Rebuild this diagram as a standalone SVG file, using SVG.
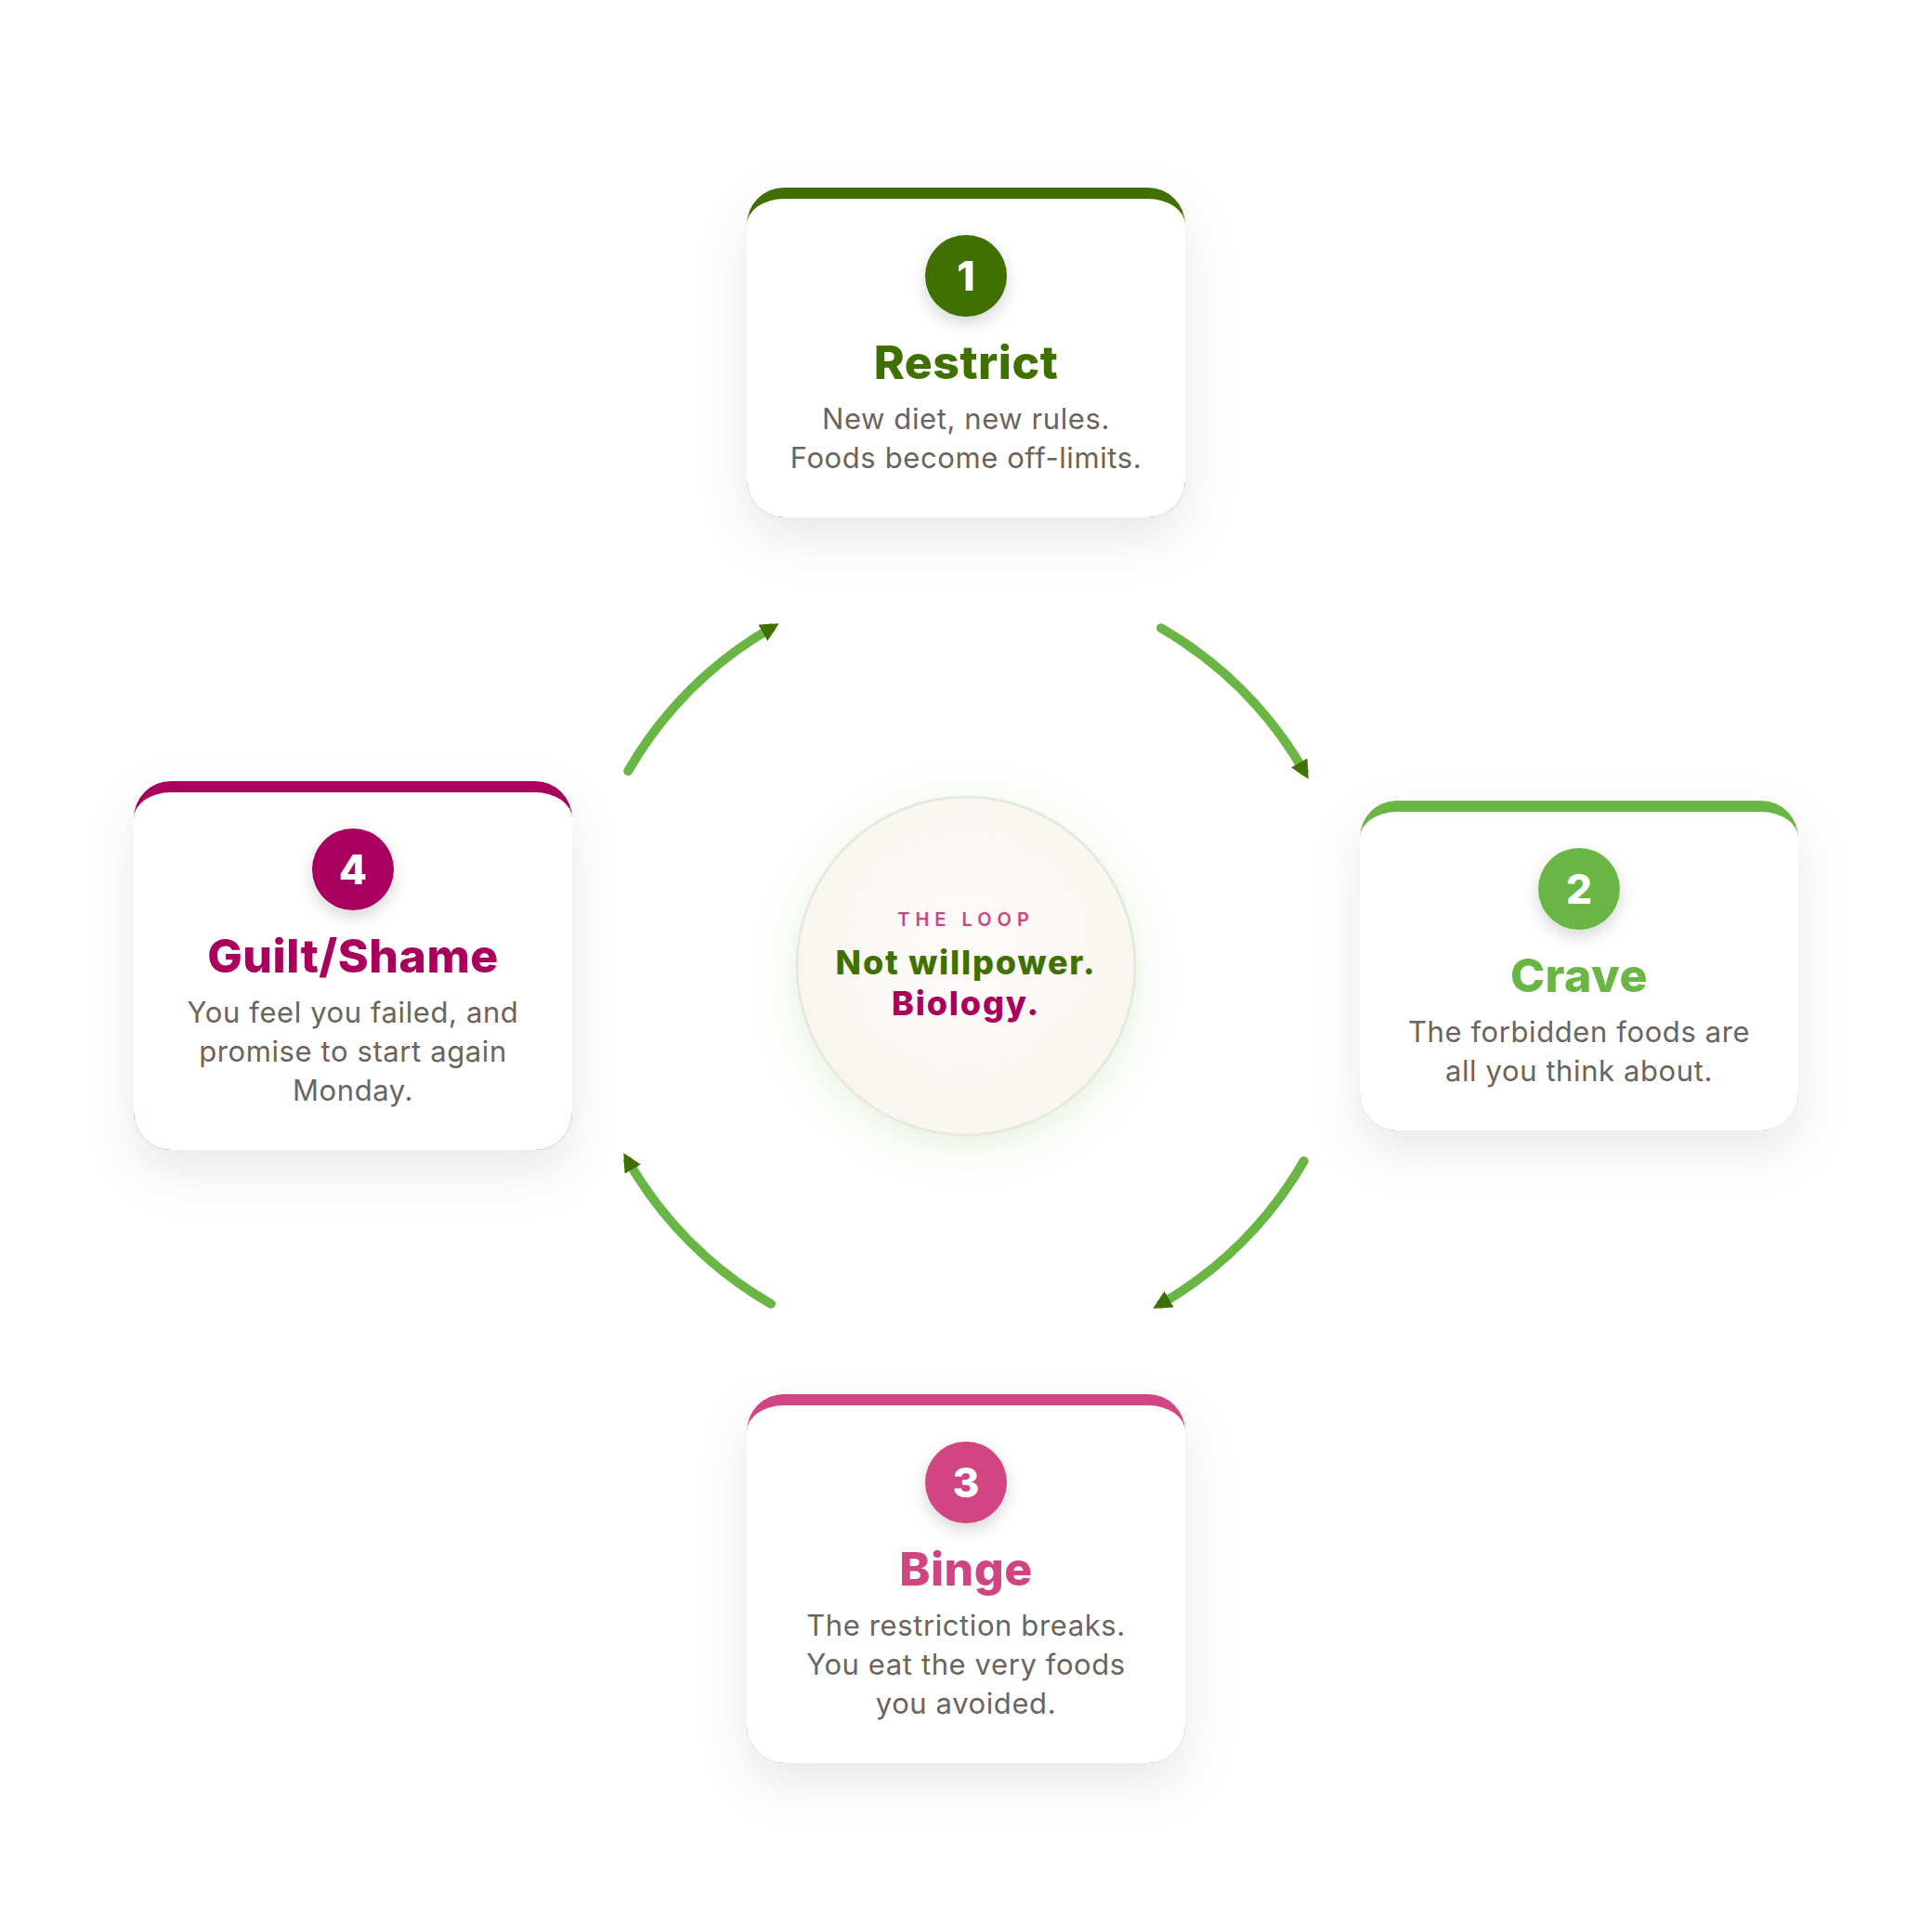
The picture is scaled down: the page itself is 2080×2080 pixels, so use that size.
<svg xmlns="http://www.w3.org/2000/svg" width="2080" height="2080" viewBox="0 0 2080 2080">
<defs>
<style>
text{font-family:Inter,"Open Sans","Liberation Sans",sans-serif;text-anchor:middle}
.title{font-weight:800;font-size:50px;letter-spacing:0.5px}
.body{font-weight:400;font-size:31px;letter-spacing:0.6px;fill:#6b645c}
.num{font-weight:800;font-size:44px;fill:#fff}
.hub{font-size:36px;font-weight:800;letter-spacing:1.8px}
.arc{fill:none;stroke:#6ab645;stroke-width:10;stroke-linecap:round;marker-end:url(#ah)}
</style>
<filter id="cardShadow" x="-30%" y="-30%" width="160%" height="170%">
<feDropShadow dx="0" dy="22" stdDeviation="26" flood-color="#000" flood-opacity="0.09"/>
</filter>
<filter id="numShadow" x="-50%" y="-50%" width="200%" height="220%">
<feDropShadow dx="0" dy="7" stdDeviation="9" flood-color="#000" flood-opacity="0.16"/>
</filter>
<filter id="hubShadow" x="-40%" y="-40%" width="180%" height="190%">
<feDropShadow dx="0" dy="10" stdDeviation="22" flood-color="#6ab645" flood-opacity="0.18"/>
</filter>
<radialGradient id="hubFill" cx="0.5" cy="0.45" r="0.6">
<stop offset="0" stop-color="#fcfbf9"/>
<stop offset="1" stop-color="#f8f5ef"/>
</radialGradient>
<marker id="ah" markerUnits="userSpaceOnUse" markerWidth="20" markerHeight="20" refX="10" refY="10" orient="auto" viewBox="0 0 20 20">
<path d="M0,0 L20,10 L0,20 Z" fill="#407000"/>
</marker>
</defs>
<rect width="2080" height="2080" fill="#fff"/>

<g id="connectors">
<path class="arc" d="M1250,676.27 A420,420 0 0 1 1403.73,830"/>
<path class="arc" d="M1403.73,1250 A420,420 0 0 1 1250,1403.73"/>
<path class="arc" d="M830,1403.73 A420,420 0 0 1 676.27,1250"/>
<path class="arc" d="M676.27,830 A420,420 0 0 1 830,676.27"/>
</g>

<g id="node-center">
<circle cx="1040" cy="1040" r="182" fill="url(#hubFill)" stroke="#e6ead9" stroke-width="3" filter="url(#hubShadow)"/>
<text x="1040" y="997" style="font-size:20px;font-weight:600;letter-spacing:6px;fill:#d04482">THE LOOP</text>
<text class="hub" x="1040" y="1049" fill="#407000">Not willpower.</text>
<text class="hub" x="1040" y="1093" fill="#a8005c">Biology.</text>
</g>

<g id="node-restrict">
<g filter="url(#cardShadow)">
<rect x="804" y="202" width="472" height="355" rx="40" fill="#407000"/>
<path d="M804,242 A40,28 0 0 1 844,214 L1236,214 A40,28 0 0 1 1276,242 L1276,517 A40,40 0 0 1 1236,557 L844,557 A40,40 0 0 1 804,517 Z" fill="#fff"/>
</g>
<circle cx="1040" cy="297" r="44" fill="#407000" filter="url(#numShadow)"/>
<text class="num" x="1040" y="313">1</text>
<text class="title" x="1040" y="408" fill="#407000">Restrict</text>
<text class="body" x="1040" y="462">New diet, new rules.</text>
<text class="body" x="1040" y="504">Foods become off-limits.</text>
</g>

<g id="node-crave">
<g filter="url(#cardShadow)">
<rect x="1464" y="862" width="472" height="355" rx="40" fill="#6ab645"/>
<path d="M1464,902 A40,28 0 0 1 1504,874 L1896,874 A40,28 0 0 1 1936,902 L1936,1177 A40,40 0 0 1 1896,1217 L1504,1217 A40,40 0 0 1 1464,1177 Z" fill="#fff"/>
</g>
<circle cx="1700" cy="957" r="44" fill="#6ab645" filter="url(#numShadow)"/>
<text class="num" x="1700" y="973">2</text>
<text class="title" x="1700" y="1068" fill="#6ab645">Crave</text>
<text class="body" x="1700" y="1122">The forbidden foods are</text>
<text class="body" x="1700" y="1164">all you think about.</text>
</g>

<g id="node-binge">
<g filter="url(#cardShadow)">
<rect x="804" y="1501" width="472" height="397" rx="40" fill="#d04482"/>
<path d="M804,1541 A40,28 0 0 1 844,1513 L1236,1513 A40,28 0 0 1 1276,1541 L1276,1858 A40,40 0 0 1 1236,1898 L844,1898 A40,40 0 0 1 804,1858 Z" fill="#fff"/>
</g>
<circle cx="1040" cy="1596" r="44" fill="#d04482" filter="url(#numShadow)"/>
<text class="num" x="1040" y="1612">3</text>
<text class="title" x="1040" y="1707" fill="#d04482">Binge</text>
<text class="body" x="1040" y="1761">The restriction breaks.</text>
<text class="body" x="1040" y="1803">You eat the very foods</text>
<text class="body" x="1040" y="1845">you avoided.</text>
</g>

<g id="node-guilt">
<g filter="url(#cardShadow)">
<rect x="144" y="841" width="472" height="397" rx="40" fill="#a8005c"/>
<path d="M144,881 A40,28 0 0 1 184,853 L576,853 A40,28 0 0 1 616,881 L616,1198 A40,40 0 0 1 576,1238 L184,1238 A40,40 0 0 1 144,1198 Z" fill="#fff"/>
</g>
<circle cx="380" cy="936" r="44" fill="#a8005c" filter="url(#numShadow)"/>
<text class="num" x="380" y="952">4</text>
<text class="title" x="380" y="1047" fill="#a8005c">Guilt/Shame</text>
<text class="body" x="380" y="1101">You feel you failed, and</text>
<text class="body" x="380" y="1143">promise to start again</text>
<text class="body" x="380" y="1185">Monday.</text>
</g>
</svg>
